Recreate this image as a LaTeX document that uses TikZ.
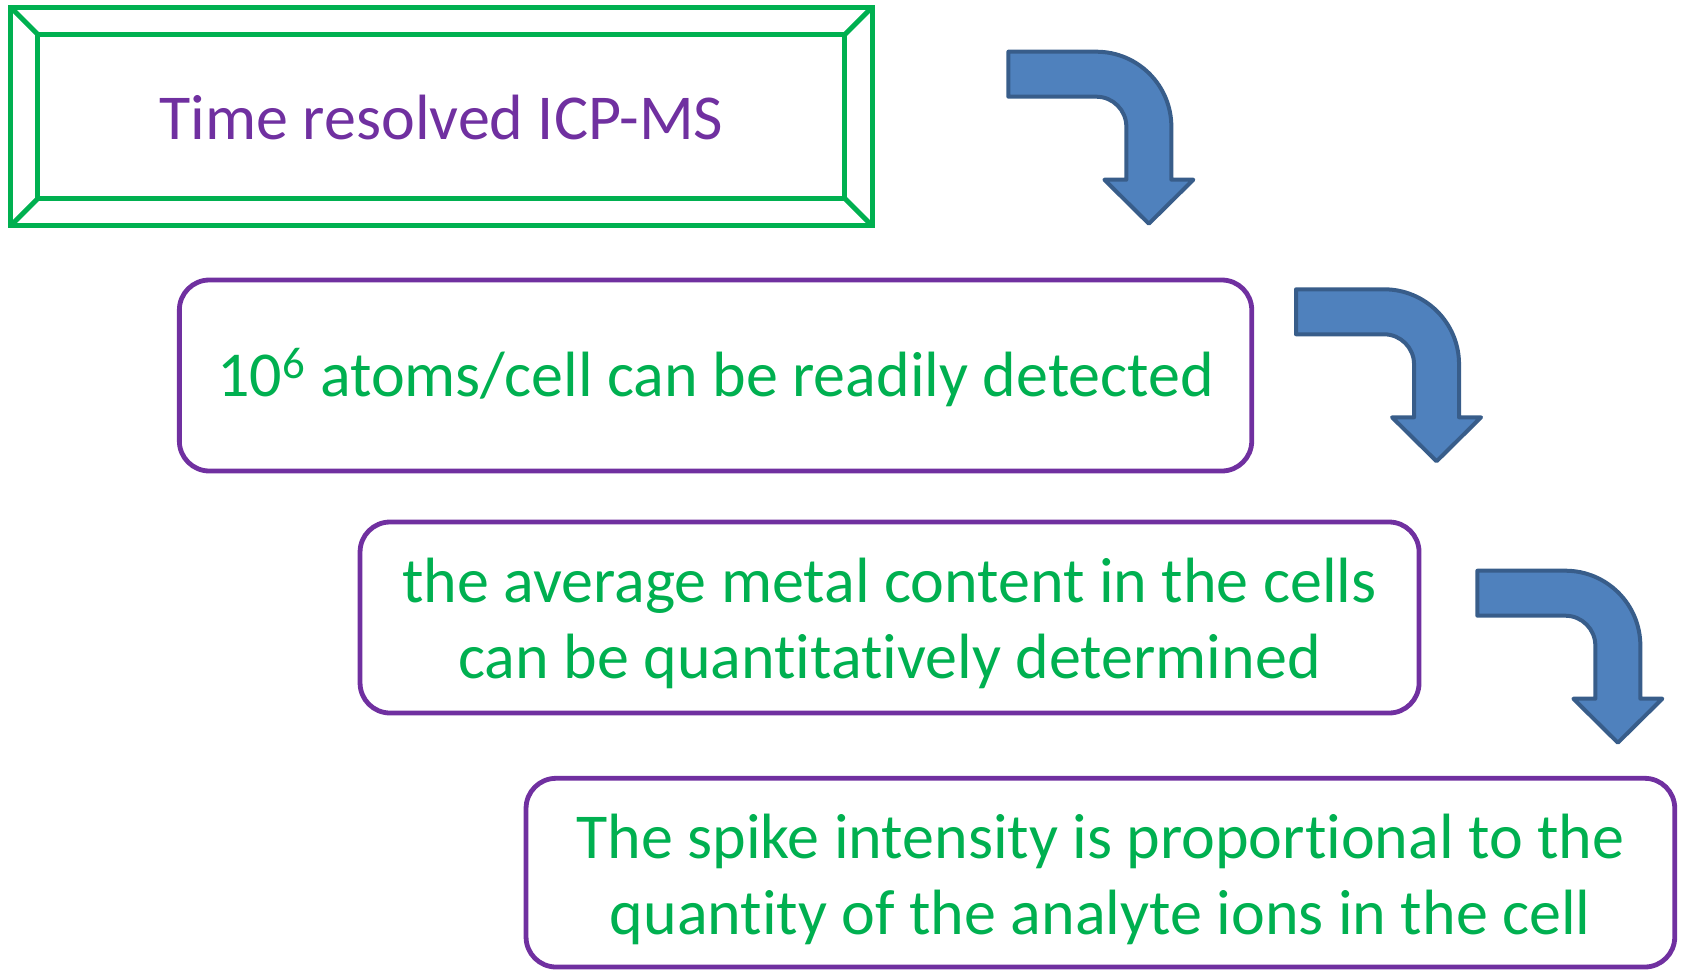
\documentclass[tikz,border=0pt]{standalone}
\usepackage{fontspec}
\setmainfont{Carlito}[RawFeature={-liga;-clig;-calt;-dlig}]
\usepackage{xcolor}
\usepackage{tikz}
\usetikzlibrary{positioning,calc}

\definecolor{boxgreen}{HTML}{00B050}
\definecolor{boxpurple}{HTML}{7030A0}
\definecolor{arrowfill}{HTML}{4F81BD}
\definecolor{arrowline}{HTML}{385D8A}

\begin{document}
\begin{tikzpicture}[
    font=\fontsize{32pt}{38pt}\selectfont,
    bevelbox/.style={rectangle, draw=boxgreen, line width=2.5pt, outer sep=0pt, minimum width=430.65pt, minimum height=109.2pt, text=boxpurple, text centered, text height=27.6pt, text depth=5pt},
    bevelline/.style={draw=boxgreen, line width=2.5pt},
    stepbox/.style={rectangle, draw=boxpurple, line width=2.4pt, rounded corners=15pt, outer sep=0pt, minimum height=95.5pt, text=boxgreen, align=center},
    blockarrow/.style={fill=arrowfill, draw=arrowline, line width=2pt, line join=round},
    bentarrow/.pic={
        \filldraw[blockarrow] (0,0) -- (44pt,0) arc[start angle=90, end angle=0, radius=37.5pt]
            -- (81.5pt,-64pt) -- (92.5pt,-64pt) -- (70.25pt,-86pt) -- (48pt,-64pt) -- (59pt,-64pt)
            -- (59pt,-37.5pt) arc[start angle=0, end angle=90, radius=15pt] -- (0,-22.5pt) -- cycle;
    }
]
    \useasboundingbox (0,0) rectangle (841.5pt,-485pt);

    % Title
    \node[bevelbox] (title) at (220.7pt,-58.25pt) {Time resolved ICP-MS};
    \draw[bevelline] ([shift={(13.5pt,-13.7pt)}]title.north west) rectangle ([shift={(-13.85pt,13.5pt)}]title.south east);
    \foreach \corner/\sx/\sy in {north west/1/-1, north east/-1/-1, south east/-1/1, south west/1/1}
        \draw[bevelline] (title.\corner) -- ++(\sx*13.6pt,\sy*13.6pt);

    % Steps
    \node[stepbox, minimum width=536.2pt, text height=27pt, text depth=6pt, below right=27.15pt and 84.3pt of title.south west] (detect) {10\textsuperscript{6} atoms/cell can be readily detected};
    \node[stepbox, minimum width=529.5pt, text height=67.7pt, text depth=7pt, below right=25.5pt and 90.35pt of detect.south west] (content) {the average metal content in the cells\\can be quantitatively determined};
    \node[stepbox, minimum width=574.35pt, minimum height=94.35pt, text height=68pt, text depth=6pt, below right=32.65pt and 83pt of content.south west] (spike) {The spike intensity is proportional to the\\quantity of the analyte ions in the cell};

    % Arrows
    \pic at ([shift={(68.15pt,-22.2pt)}]title.north east) {bentarrow};
    \pic at ([shift={(22.15pt,-4.65pt)}]detect.north east) {bentarrow};
    \pic at ([shift={(29.15pt,-24.35pt)}]content.north east) {bentarrow};
\end{tikzpicture}
\end{document}
